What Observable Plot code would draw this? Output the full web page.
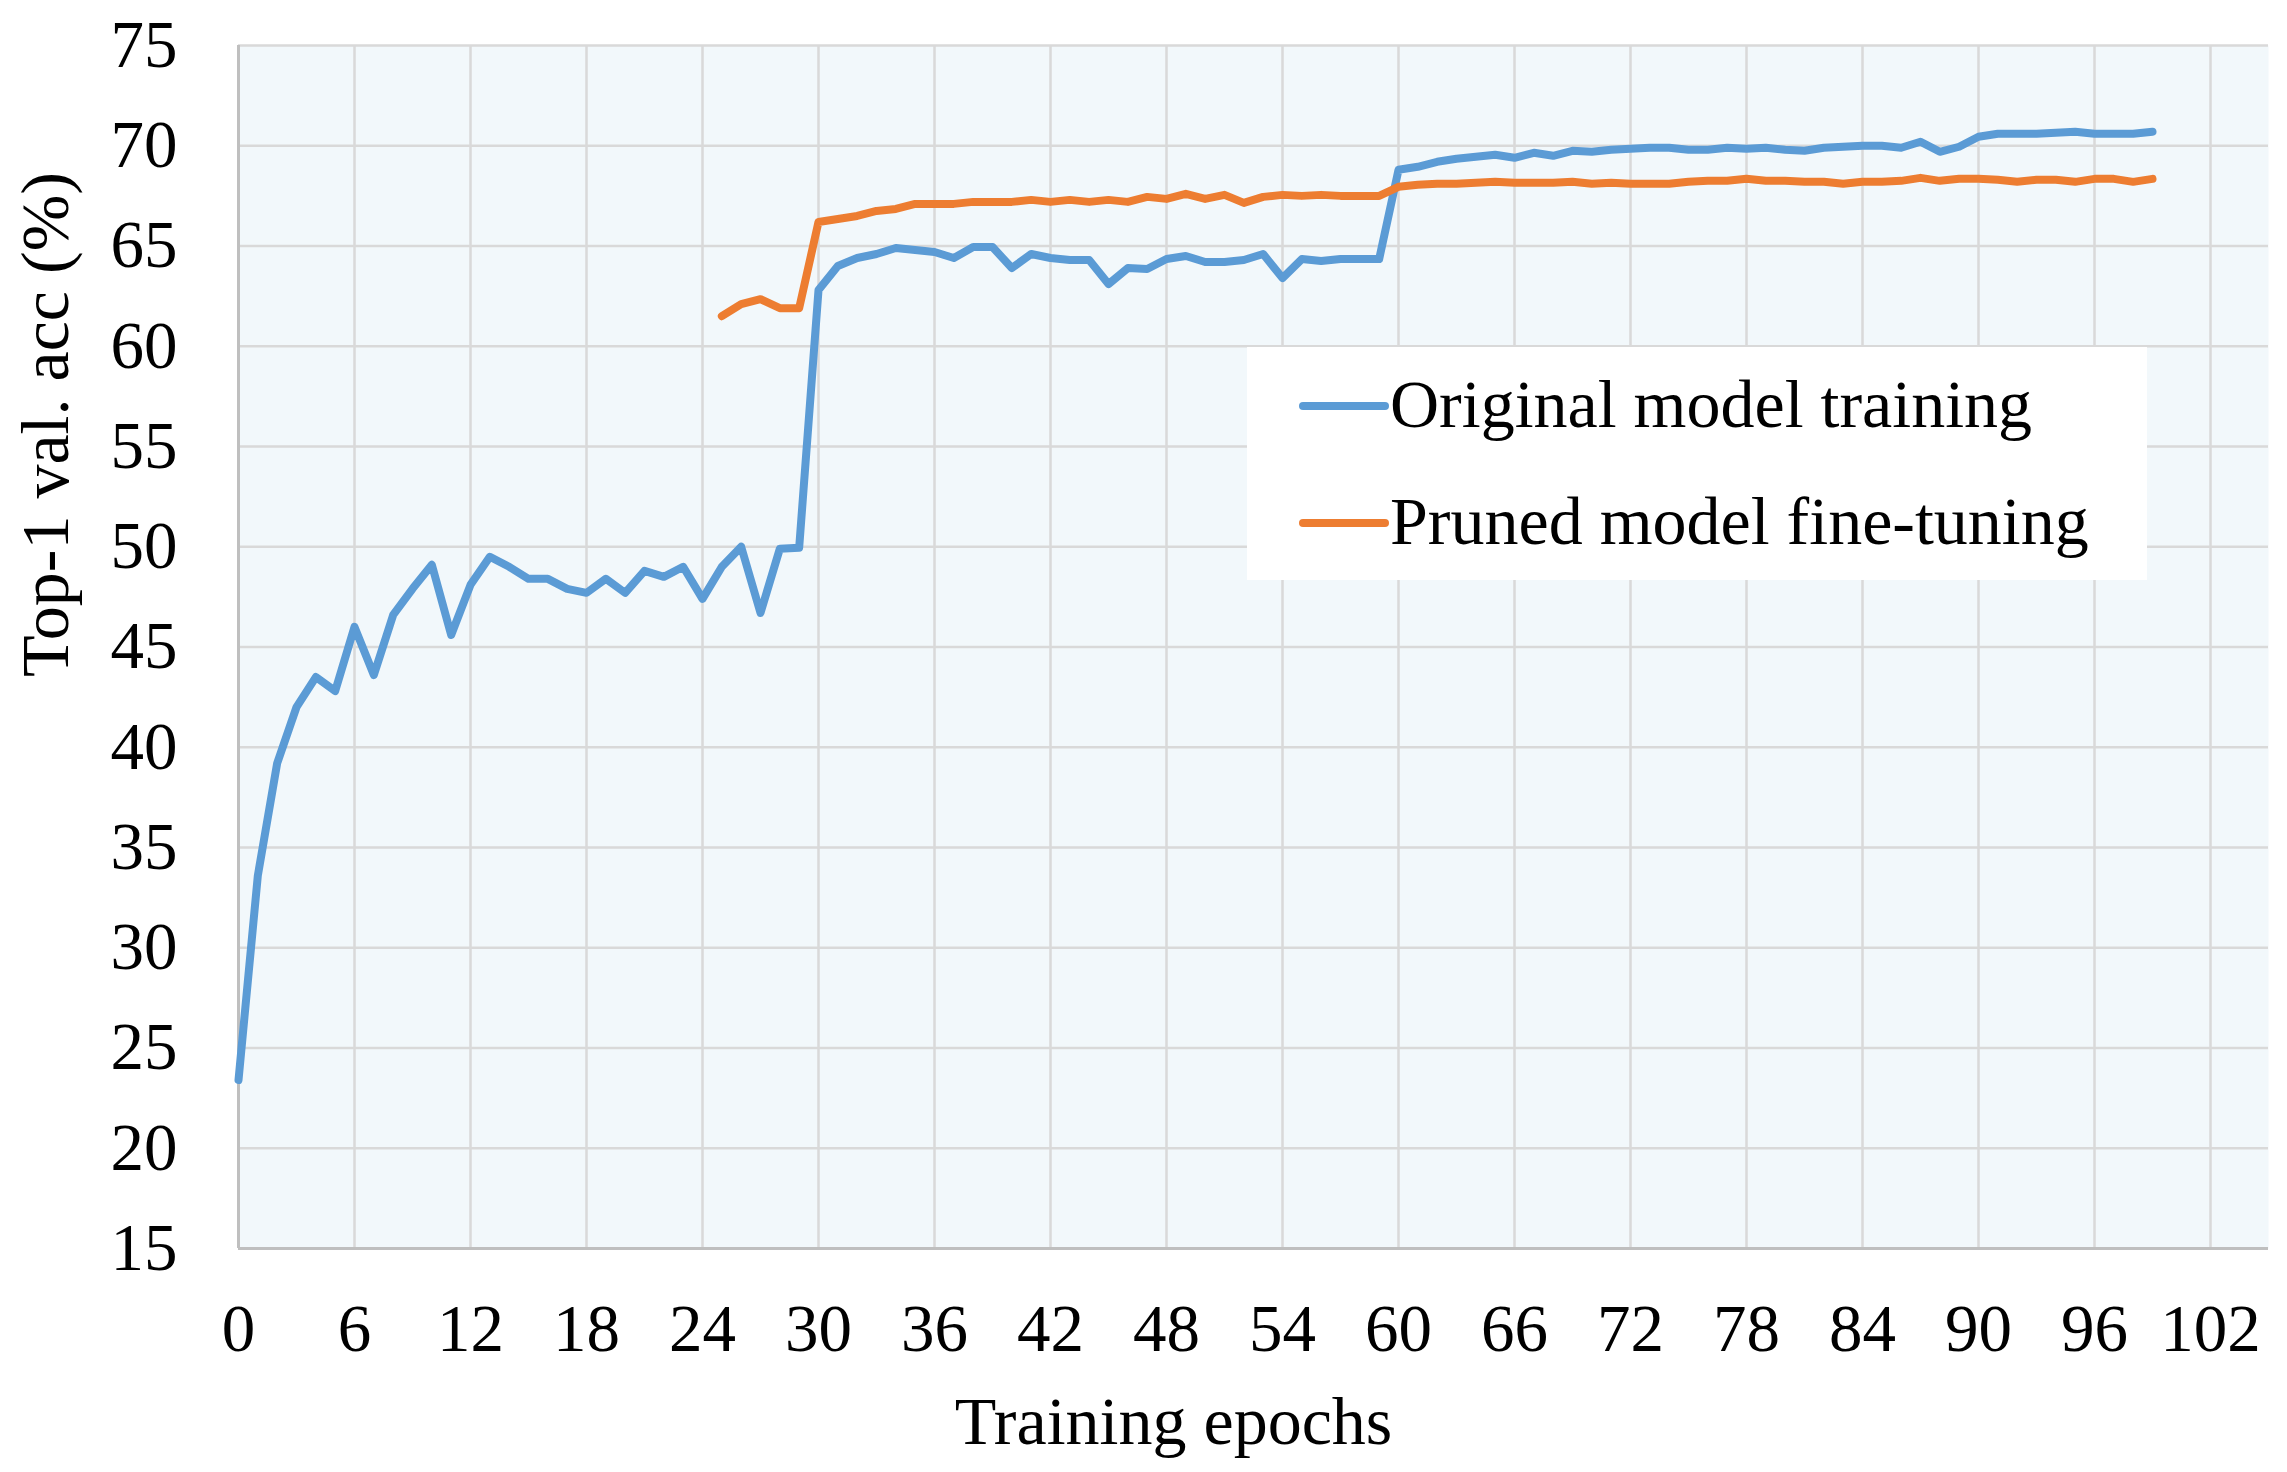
<!DOCTYPE html>
<html>
<head>
<meta charset="utf-8">
<script src="https://cdn.jsdelivr.net/npm/d3@7"></script>
<script src="https://cdn.jsdelivr.net/npm/@observablehq/plot@0.6"></script>
<style>
  html, body { margin: 0; padding: 0; background: white; }
  #chart { position: relative; width: 2287px; height: 1472px; }
</style>
</head>
<body>
<div id="chart"></div>
<script>
// ---- data ----
const seriesNames = ["Original model training", "Pruned model fine-tuning"];
const seriesColors = ["#5B9BD5", "#ED7D31"];

// Original model: epochs 0..99
const originalAcc = [
  23.4, 33.6, 39.2, 42.0, 43.5, 42.8, 46.0, 43.6, 46.6, 47.9,
  49.1, 45.6, 48.1, 49.5, 49.0, 48.4, 48.4, 47.9, 47.7, 48.4,
  47.7, 48.8, 48.5, 49.0, 47.4, 49.0, 50.0, 46.7, 49.9, 49.95,
  62.8, 64.0, 64.4, 64.6, 64.9, 64.8, 64.7, 64.4, 64.95, 64.95,
  63.9, 64.6, 64.4, 64.3, 64.3, 63.1, 63.9, 63.85, 64.35, 64.5,
  64.2, 64.2, 64.3, 64.6, 63.4, 64.35, 64.25, 64.35, 64.35, 64.35,
  68.8, 68.95, 69.2, 69.35, 69.45, 69.55, 69.4, 69.65, 69.5, 69.75,
  69.7, 69.8, 69.85, 69.9, 69.9, 69.8, 69.8, 69.9, 69.85, 69.9,
  69.8, 69.75, 69.9, 69.95, 70.0, 70.0, 69.9, 70.2, 69.7, 69.95,
  70.45, 70.6, 70.6, 70.6, 70.65, 70.7, 70.6, 70.6, 70.6, 70.7
];
const originalStart = 0;

// Pruned model fine-tuning: epochs 25..99
const prunedAcc = [
  61.5, 62.1, 62.35, 61.9, 61.9,
  66.2, 66.35, 66.5, 66.75, 66.85, 67.1, 67.1, 67.1, 67.2, 67.2,
  67.2, 67.3, 67.2, 67.3, 67.2, 67.3, 67.2, 67.45, 67.35, 67.6,
  67.35, 67.55, 67.15, 67.45, 67.55, 67.5, 67.55, 67.5, 67.5, 67.5,
  67.95, 68.05, 68.1, 68.1, 68.15, 68.2, 68.15, 68.15, 68.15, 68.2,
  68.1, 68.15, 68.1, 68.1, 68.1, 68.2, 68.25, 68.25, 68.35, 68.25,
  68.25, 68.2, 68.2, 68.1, 68.2, 68.2, 68.25, 68.4, 68.25, 68.35,
  68.35, 68.3, 68.2, 68.3, 68.3, 68.2, 68.35, 68.35, 68.2, 68.35
];
const prunedStart = 25;

const xTicks = [0, 6, 12, 18, 24, 30, 36, 42, 48, 54, 60, 66, 72, 78, 84, 90, 96, 102];
const yTicks = [15, 20, 25, 30, 35, 40, 45, 50, 55, 60, 65, 70, 75];
const xDomain = [0, 105];
const yDomain = [15, 75];
const xTitle = "Training epochs";
const yTitle = "Top-1 val. acc (%)";

// ---- build tables ----
const originalData = originalAcc.map((v, i) => ({epoch: originalStart + i, acc: v}));
const prunedData = prunedAcc.map((v, i) => ({epoch: prunedStart + i, acc: v}));

const font = '"Liberation Serif", "Times New Roman", Times, serif';
const gridColor = "#D9D9D9";
const axisColor = "#BFBFBF";
const lineWidth = 8;

const chart = Plot.plot({
  width: 2287,
  height: 1472,
  marginLeft: 238,
  marginRight: 19,
  marginTop: 45,
  marginBottom: 224,
  style: {fontFamily: font, fontSize: "67px", color: "black", background: "white", overflow: "visible"},
  x: {domain: xDomain},
  y: {domain: yDomain},
  marks: [
    Plot.frame({fill: "#F2F8FB", stroke: null}),
    Plot.gridX(xTicks, {stroke: gridColor, strokeOpacity: 1, strokeWidth: 2.5}),
    Plot.gridY(yTicks, {stroke: gridColor, strokeOpacity: 1, strokeWidth: 2.5}),
    Plot.ruleX([xDomain[0]], {stroke: axisColor, strokeWidth: 3}),
    Plot.ruleY([yDomain[0]], {stroke: axisColor, strokeWidth: 3}),
    Plot.axisX(xTicks, {tickSize: 0, tickPadding: 55, fontSize: 67, label: null, fill: "black"}),
    Plot.axisY(yTicks, {tickSize: 0, tickPadding: 61, fontSize: 67, label: null, fill: "black"}),
    Plot.line(originalData, {x: "epoch", y: "acc", stroke: seriesColors[0], strokeWidth: lineWidth, strokeLinejoin: "round", strokeLinecap: "round"}),
    Plot.line(prunedData, {x: "epoch", y: "acc", stroke: seriesColors[1], strokeWidth: lineWidth, strokeLinejoin: "round", strokeLinecap: "round"}),
    Plot.text([xTitle], {frameAnchor: "bottom", dx: -80, dy: 195, lineAnchor: "bottom", fontSize: 68, fill: "black"}),
    Plot.text([yTitle], {frameAnchor: "left", rotate: -90, dx: -171, dy: 30, lineAnchor: "bottom", fontSize: 68, fill: "black"})
  ]
});

// ---- legend (inside plot area, white box) ----
const svg = d3.select(chart);
const lg = svg.append("g").attr("transform", "translate(1247,347)");
lg.append("rect").attr("width", 900).attr("height", 233).attr("fill", "white");
seriesNames.forEach((name, i) => {
  const cy = 59 + i * 117;
  lg.append("line")
    .attr("x1", 56).attr("x2", 138).attr("y1", cy).attr("y2", cy)
    .attr("stroke", seriesColors[i]).attr("stroke-width", lineWidth).attr("stroke-linecap", "round");
  lg.append("text")
    .attr("x", 143).attr("y", cy + 21)
    .attr("text-anchor", "start")
    .style("text-anchor", "start")
    .attr("font-family", font).attr("font-size", 68).attr("fill", "black")
    .text(name);
});

document.getElementById("chart").appendChild(chart);
</script>
</body>
</html>
